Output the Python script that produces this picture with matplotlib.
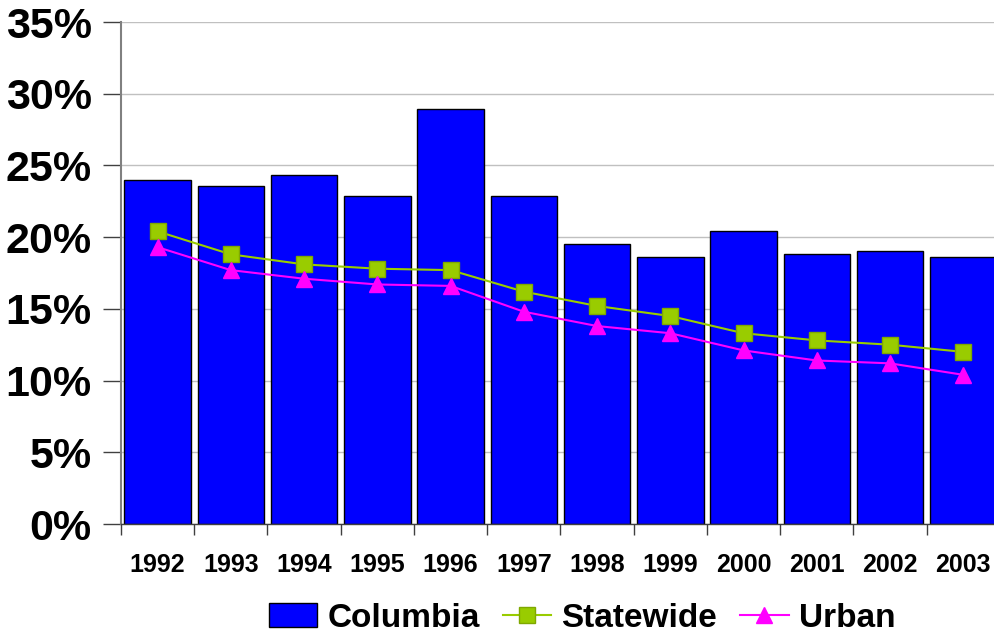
import matplotlib
matplotlib.use("Agg")
import matplotlib.pyplot as plt
from matplotlib.ticker import FixedLocator, PercentFormatter

years = ["1992", "1993", "1994", "1995", "1996", "1997",
         "1998", "1999", "2000", "2001", "2002", "2003"]
columbia = [24.0, 23.6, 24.3, 22.9, 28.9, 22.9, 19.5, 18.6, 20.4, 18.8, 19.0, 18.6]
statewide = [20.4, 18.8, 18.1, 17.8, 17.7, 16.2, 15.2, 14.5, 13.3, 12.8, 12.5, 12.0]
urban = [19.3, 17.7, 17.1, 16.7, 16.6, 14.8, 13.8, 13.3, 12.1, 11.4, 11.2, 10.4]

plt.rcParams["font.family"] = ["Liberation Sans", "DejaVu Sans"]
plt.rcParams["font.weight"] = "bold"

fig = plt.figure(figsize=(9.95, 6.34), dpi=100)
ax = fig.add_axes([121 / 995, 110 / 634, 879 / 995, 502 / 634])

x = list(range(len(years)))
bars = ax.bar(x, columbia, width=0.91, color="#0000FF", edgecolor="black",
              linewidth=1.0, label="Columbia", zorder=2)
line_s, = ax.plot(x, statewide, color="#99CC00", linewidth=1.5, marker="s", markersize=11,
                  markerfacecolor="#99CC00", markeredgecolor="#7FA800",
                  label="Statewide", zorder=3)
line_u, = ax.plot(x, urban, color="#FF00FF", linewidth=1.5, marker="^", markersize=12,
                  markerfacecolor="#FF00FF", markeredgecolor="#FF00FF",
                  label="Urban", zorder=3)

ax.set_xlim(-0.5, len(years) - 0.5)
ax.set_ylim(0, 35)
ax.yaxis.set_major_locator(FixedLocator(range(0, 36, 5)))
ax.yaxis.set_major_formatter(PercentFormatter(decimals=0))
ax.grid(axis="y", color="#C0C0C0", linewidth=1.0, zorder=0)
ax.set_axisbelow(True)

ax.set_xticks(x)
ax.set_xticklabels(years)
ax.set_xticks([i - 0.5 for i in range(len(years) + 1)], minor=True)
ax.tick_params(axis="x", which="major", length=0, pad=21, labelsize=18)
ax.tick_params(axis="x", which="minor", length=8, width=1, color="#404040", direction="out")
ax.tick_params(axis="y", which="major", length=13, width=1, color="#404040",
               labelsize=31, pad=8)

for side in ("top", "right"):
    ax.spines[side].set_visible(False)
ax.spines["left"].set_color("#808080")
ax.spines["left"].set_linewidth(1.5)
ax.spines["bottom"].set_color("#404040")
ax.spines["bottom"].set_linewidth(1.0)

for lbl in ax.get_xticklabels() + ax.get_yticklabels():
    lbl.set_fontweight("bold")

fig.legend([bars, line_s, line_u], ["Columbia", "Statewide", "Urban"],
           loc="center", bbox_to_anchor=(0.585, 0.025), ncol=3, frameon=False,
           prop={"size": 24, "weight": "bold"}, handlelength=1.45, handleheight=0.7,
           columnspacing=0.7, handletextpad=0.3, markerscale=1.0)

fig.savefig("out.png", dpi=100)
